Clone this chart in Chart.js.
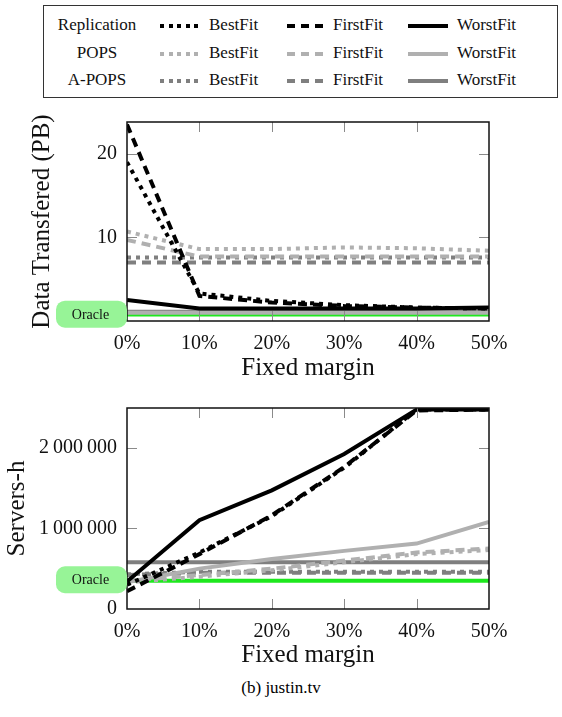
<!DOCTYPE html>
<html>
<head>
<meta charset="utf-8">
<script src="https://cdn.jsdelivr.net/npm/chart.js@4.4.0/dist/chart.umd.min.js"></script>
<style>
  body { margin: 0; background: #fff; width: 562px; height: 717px; position: relative; overflow: hidden;
         font-family: "Liberation Serif", "DejaVu Serif", serif; }
  #legend { position: absolute; left: 43px; top: 5px; width: 513px; height: 91px; border: 1px solid #333; }
  .lt { position: absolute; font-size: 17px; line-height: 20px; color: #111; }
  .ls { position: absolute; height: 4px; width: 40px; }
  canvas { position: absolute; left: 0; }
  #caption { position: absolute; top: 678px; left: 0; width: 562px; text-align: center; font-size: 17px; }
</style>
</head>
<body>
<div id="legend"></div>
<canvas id="dataChart" width="562" height="286" style="top:100px"></canvas>
<canvas id="serversChart" width="562" height="290" style="top:386px"></canvas>
<div id="caption">(b) justin.tv</div>
<script>
// Dữ liệu: trục x (Fixed margin, %)
const margins = [0, 10, 20, 30, 40, 50];

// Data Transfered (PB)
const dtRepBest   = [19.0, 3.3, 2.4, 1.9, 1.6, 1.5];
const dtRepFirst  = [23.5, 3.0, 2.2, 1.8, 1.6, 1.5];
const dtRepWorst  = [2.5, 1.5, 1.5, 1.5, 1.5, 1.6];
const dtPopsBest  = [10.7, 8.6, 8.6, 8.8, 8.7, 8.4];
const dtPopsFirst = [9.7, 7.7, 7.7, 7.7, 7.7, 7.7];
const dtPopsWorst = [1.0, 1.0, 1.0, 1.0, 1.0, 1.0];
const dtApopsBest = [7.6, 7.6, 7.6, 7.6, 7.6, 7.6];
const dtApopsFirst= [7.0, 7.0, 7.0, 7.0, 7.0, 7.0];
const dtApopsWorst= [1.1, 1.1, 1.1, 1.1, 1.1, 1.1];
const dtOracle    = [0.7, 0.7, 0.7, 0.7, 0.7, 0.7];
const dtTicks = [0, 10, 20];

// Servers-h
const shRepBest   = [300000, 700000, 1150000, 1750000, 2470000, 2470000];
const shRepFirst  = [220000, 680000, 1160000, 1760000, 2460000, 2470000];
const shRepWorst  = [340000, 1100000, 1470000, 1920000, 2470000, 2470000];
const shPopsBest  = [330000, 400000, 480000, 580000, 680000, 730000];
const shPopsFirst = [350000, 420000, 500000, 600000, 700000, 750000];
const shPopsWorst = [330000, 500000, 620000, 720000, 810000, 1080000];
const shApopsBest = [430000, 460000, 460000, 460000, 460000, 460000];
const shApopsFirst= [420000, 450000, 450000, 450000, 450000, 450000];
const shApopsWorst= [580000, 580000, 580000, 580000, 580000, 580000];
const shOracle    = [350000, 350000, 350000, 350000, 350000, 350000];
const shTicks = [0, 1000000, 2000000];

const BLACK = '#000000', LIGHT = '#b0b0b0', MID = '#7f7f7f', GREEN = '#1ee81e';
const DOT = [4, 5], DASH = [9, 6];

// Chú thích (legend) bằng HTML
const legendRows = [['Replication', BLACK], ['POPS', LIGHT], ['A-POPS', MID]];
const legendCols = [['BestFit', 116, 165, 'dot'], ['FirstFit', 243, 289, 'dash'], ['WorstFit', 364, 413, 'solid']];
const legendEl = document.getElementById('legend');
legendRows.forEach(([name, color], r) => {
  const y = 9 + r * 27.5;
  const t = document.createElement('div');
  t.className = 'lt';
  t.style.left = '0px'; t.style.width = '106px'; t.style.textAlign = 'center'; t.style.top = y + 'px';
  t.textContent = name;
  legendEl.appendChild(t);
  legendCols.forEach(([label, sx, tx, style]) => {
    const s = document.createElement('div');
    s.className = 'ls';
    s.style.left = sx + 'px'; s.style.top = (y + 9) + 'px';
    if (style === 'dot') s.style.background = `repeating-linear-gradient(to right, ${color} 0 4px, transparent 4px 8.5px)`;
    else if (style === 'dash') { s.style.width = '36px'; s.style.background = `repeating-linear-gradient(to right, ${color} 0 8px, transparent 8px 14px)`; }
    else s.style.background = color;
    legendEl.appendChild(s);
    const l = document.createElement('div');
    l.className = 'lt';
    l.style.left = tx + 'px'; l.style.top = y + 'px';
    l.textContent = label;
    legendEl.appendChild(l);
  });
});

function line(label, values, color, dash, width) {
  return {
    label: label,
    data: values.map((v, i) => ({ x: margins[i], y: v })),
    borderColor: color,
    borderDash: dash,
    borderWidth: width || 4,
    borderCapStyle: 'butt',
    pointRadius: 0,
    tension: 0,
    fill: false
  };
}

// Khung, vạch chia hướng vào trong và nhãn "Oracle"
const framePlugin = {
  id: 'frame',
  afterDraw(chart, args, opts) {
    const { ctx, chartArea: a, scales } = chart;
    ctx.save();
    ctx.strokeStyle = '#8a8a8a';
    ctx.lineWidth = 1;
    [10, 20, 30, 40].forEach(v => {
      const x = Math.round(scales.x.getPixelForValue(v)) + 0.5;
      ctx.beginPath();
      ctx.moveTo(x, a.top); ctx.lineTo(x, a.top + 10);
      ctx.moveTo(x, a.bottom); ctx.lineTo(x, a.bottom - 10);
      ctx.stroke();
    });
    opts.yTicks.filter(v => v > 0).forEach(v => {
      const y = Math.round(scales.y.getPixelForValue(v)) + 0.5;
      ctx.beginPath();
      ctx.moveTo(a.left, y); ctx.lineTo(a.left + 10, y);
      ctx.moveTo(a.right, y); ctx.lineTo(a.right - 10, y);
      ctx.stroke();
    });
    ctx.strokeStyle = '#111';
    ctx.lineWidth = 1.5;
    ctx.strokeRect(a.left, a.top, a.right - a.left, a.bottom - a.top);
    // Oracle box
    const oy = scales.y.getPixelForValue(opts.oracle);
    const w = 71, h = 27, r = 9, x0 = a.left - w, y0 = oy - h / 2 - 1;
    ctx.fillStyle = '#97f497';
    ctx.beginPath();
    ctx.roundRect(x0, y0, w, h, r);
    ctx.fill();
    ctx.fillStyle = '#111';
    ctx.font = '14px "Liberation Serif"';
    ctx.textAlign = 'center';
    ctx.textBaseline = 'middle';
    ctx.fillText('Oracle', x0 + w / 2 - 1, y0 + h / 2 + 1);
    ctx.restore();
  }
};

function makeChart(id, sets, yMax, yTicks, yTitle, yTitlePad, padTop, xHeight, xTitlePad, fmt, oracle) {
  return new Chart(document.getElementById(id).getContext('2d'), {
    type: 'line',
    data: { datasets: sets },
    plugins: [framePlugin],
    options: {
      responsive: false,
      animation: false,
      layout: { padding: { top: padTop, right: 73, left: 0, bottom: 0 } },
      plugins: { legend: { display: false }, tooltip: { enabled: false }, frame: { yTicks: yTicks, oracle: oracle } },
      scales: {
        x: {
          type: 'linear', min: 0, max: 50,
          grid: { display: false, drawTicks: false },
          border: { display: false },
          ticks: { stepSize: 10, padding: 11, color: '#111', font: { family: 'Liberation Serif', size: 20 }, callback: v => v + '%' },
          title: { display: true, text: 'Fixed margin', color: '#111', font: { family: 'Liberation Serif', size: 25 }, padding: { top: 0, bottom: xTitlePad } },
          afterFit: s => { s.height = xHeight; }
        },
        y: {
          type: 'linear', min: 0, max: yMax,
          grid: { display: false, drawTicks: false },
          border: { display: false },
          afterBuildTicks: s => { s.ticks = yTicks.map(v => ({ value: v })); },
          ticks: { padding: 10, color: '#111', font: { family: 'Liberation Serif', size: 20 }, callback: fmt },
          title: { display: true, text: yTitle, color: '#111', font: { family: 'Liberation Serif', size: 25 }, padding: { top: yTitlePad, bottom: 0 } },
          afterFit: s => { s.width = 127; }
        }
      }
    }
  });
}

const dataChart = makeChart('dataChart', [
  line('Replication BestFit', dtRepBest, BLACK, DOT),
  line('Replication FirstFit', dtRepFirst, BLACK, DASH),
  line('Replication WorstFit', dtRepWorst, BLACK, []),
  line('POPS BestFit', dtPopsBest, LIGHT, DOT),
  line('POPS FirstFit', dtPopsFirst, LIGHT, DASH),
  line('POPS WorstFit', dtPopsWorst, LIGHT, []),
  line('A-POPS BestFit', dtApopsBest, MID, DOT),
  line('A-POPS FirstFit', dtApopsFirst, MID, DASH),
  line('A-POPS WorstFit', dtApopsWorst, MID, []),
  line('Oracle', dtOracle, GREEN, [], 2.5)
], 23.8, dtTicks, 'Data Transfered (PB)', 27, 9, 65, 3, v => String(v), dtOracle[0]);

const serversChart = makeChart('serversChart', [
  line('Replication BestFit', shRepBest, BLACK, DOT),
  line('Replication FirstFit', shRepFirst, BLACK, DASH),
  line('Replication WorstFit', shRepWorst, BLACK, []),
  line('POPS BestFit', shPopsBest, LIGHT, DOT),
  line('POPS FirstFit', shPopsFirst, LIGHT, DASH),
  line('POPS WorstFit', shPopsWorst, LIGHT, []),
  line('A-POPS BestFit', shApopsBest, MID, DOT),
  line('A-POPS FirstFit', shApopsFirst, MID, DASH),
  line('A-POPS WorstFit', shApopsWorst, MID, []),
  line('Oracle', shOracle, GREEN, [], 4)
], 2490000, shTicks, 'Servers-h', 2, 11, 67, 6,
  v => String(v).replace(/\B(?=(\d{3})+(?!\d))/g, '\u2009'), shOracle[0]);
</script>
</body>
</html>
